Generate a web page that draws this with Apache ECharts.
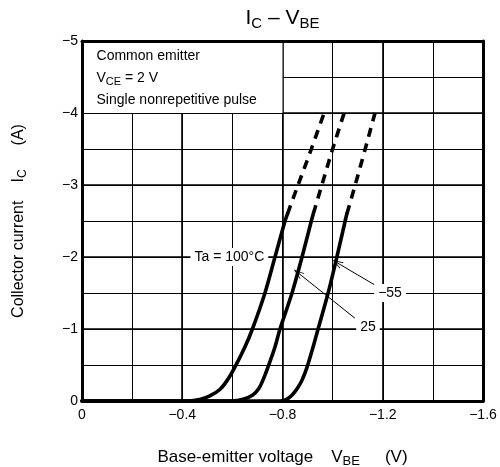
<!DOCTYPE html>
<html>
<head>
<meta charset="utf-8">
<script src="https://cdn.jsdelivr.net/npm/echarts@6/dist/echarts.min.js"></script>
<style>html,body{margin:0;padding:0;background:#fff}#c{width:500px;height:467px}</style>
</head>
<body>
<div id="c"></div>
<script>
// ---- data (VBE in V, IC in A) ----
const vbe100Solid = [0, -0.42, -0.47, -0.51, -0.55, -0.58, -0.61, -0.65, -0.68, -0.73, -0.77, -0.81, -0.82];
const ic100Solid  = [0, 0, -0.02, -0.07, -0.16, -0.29, -0.47, -0.75, -1.0, -1.5, -2.0, -2.5, -2.6];
const vbe100Dash  = [-0.82, -0.862, -0.915, -0.966];
const ic100Dash   = [-2.6, -3.0, -3.5, -4.0];

const vbe25Solid = [0, -0.60, -0.64, -0.68, -0.705, -0.722, -0.742, -0.77, -0.79, -0.838, -0.878, -0.915, -0.923];
const ic25Solid  = [0, 0, -0.02, -0.08, -0.17, -0.29, -0.47, -0.75, -1.0, -1.5, -2.0, -2.5, -2.6];
const vbe25Dash  = [-0.923, -0.957, -1.0, -1.046];
const ic25Dash   = [-2.6, -3.0, -3.5, -4.0];

const vbeM55Solid = [0, -0.79, -0.82, -0.845, -0.862, -0.878, -0.898, -0.922, -0.942, -0.982, -1.017, -1.05, -1.057];
const icM55Solid  = [0, 0, -0.03, -0.11, -0.19, -0.29, -0.47, -0.75, -1.0, -1.5, -2.0, -2.5, -2.6];
const vbeM55Dash  = [-1.057, -1.09, -1.13, -1.169];
const icM55Dash   = [-2.6, -3.0, -3.5, -4.0];

const xTicks = [0, -0.4, -0.8, -1.2, -1.6];
const yTicks = [0, -1, -2, -3, -4, -5];

const boxLines = ['Common emitter', '{m|V}{sub|CE}{m| = 2 V}', 'Single nonrepetitive pulse'];
const tempLabels = ['Ta = 100°C', '25', '−55'];

// ---- helpers ----
const zip = (xs, ys) => xs.map((x, i) => [x, ys[i]]);
const near = (a, b) => Math.abs(a - b) < 1e-6;
const fmt = v => {
  if (near(v, 0)) return '0';
  const a = Math.abs(v);
  return '−' + (near(a, Math.round(a)) ? String(Math.round(a)) : a.toFixed(1));
};

const FONT = 'Liberation Sans, Arial, sans-serif';
const richBase = {
  m: {fontFamily: FONT, fontSize: 16, color: '#000'},
  sub: {fontFamily: FONT, fontSize: 12, color: '#000', padding: [9, 0, 0, 0]},
  t: {fontFamily: FONT, fontSize: 21, color: '#000'},
  ts: {fontFamily: FONT, fontSize: 15, color: '#000', padding: [11, 0, 0, 0]},
  g: {fontFamily: FONT, fontSize: 16, width: 18},
  g2: {fontFamily: FONT, fontSize: 16, width: 24}
};
const richX = {
  m: {fontFamily: FONT, fontSize: 17, color: '#000'},
  sub: {fontFamily: FONT, fontSize: 13, color: '#000', padding: [9, 0, 0, 0]},
  g: {fontFamily: FONT, fontSize: 17, width: 18},
  g2: {fontFamily: FONT, fontSize: 17, width: 25}
};

function xAx(extra) {
  return Object.assign({type: 'value', min: -1.6, max: 0, inverse: true, interval: 0.2,
    axisLine: {show: false, onZero: false}, axisTick: {show: false}, axisLabel: {show: false},
    splitLine: {show: false}}, extra);
}
function yAx(extra) {
  return Object.assign({type: 'value', min: -5, max: 0, inverse: true, interval: 0.5,
    axisLine: {show: false, onZero: false}, axisTick: {show: false}, axisLabel: {show: false},
    splitLine: {show: false}}, extra);
}

const chart = echarts.init(document.getElementById('c'), null, {renderer: 'canvas'});

const solidStyle = {color: '#000', width: 3.6, cap: 'round', join: 'round'};
const dashStyle = {color: '#000', width: 3.6, type: [9, 7], cap: 'butt'};
function curve(data, style) {
  return {type: 'line', xAxisIndex: 0, yAxisIndex: 0, data: data, showSymbol: false, symbol: 'none',
    smooth: 0.3, lineStyle: style, z: 3, silent: true, animation: false};
}

const arrowPath = 'path://M0,0 L-5,12 L-4,12.6 L0,3 L4,12.6 L5,12 Z';

const option = {
  animation: false,
  grid: {left: 82, right: 17, top: 41, bottom: 66, containLabel: false, outerBoundsMode: 'none'},
  xAxis: [
    xAx({z: 0, splitLine: {show: true, lineStyle: {color: '#000', width: 1}}}),
    xAx({z: 0, interval: 0.4, splitLine: {show: true, lineStyle: {color: '#000', width: 1.6}}}),
    xAx({z: 4, position: 'bottom',
      axisLine: {show: true, onZero: false, lineStyle: {color: '#000', width: 3}},
      axisLabel: {show: true, margin: 7, color: '#000', fontFamily: FONT, fontSize: 14,
        formatter: v => (xTicks.some(t => near(t, v)) ? fmt(v) : '')},
      name: '{m|Base-emitter voltage}{g|}{m|V}{sub|BE}{g2|}{m|(V)}',
      nameLocation: 'middle', nameGap: 45, nameTextStyle: {rich: richX}}),
    xAx({z: 4, position: 'top',
      axisLine: {show: true, onZero: false, lineStyle: {color: '#000', width: 3}},
      name: '{t|I}{ts|C}{t| – V}{ts|BE}', nameLocation: 'middle', nameGap: 10,
      nameTextStyle: {rich: richBase}})
  ],
  yAxis: [
    yAx({z: 0, splitLine: {show: true, lineStyle: {color: '#000', width: 1}}}),
    yAx({z: 0, interval: 1, splitLine: {show: true, lineStyle: {color: '#000', width: 1.6}}}),
    yAx({z: 4, position: 'left',
      axisLine: {show: true, onZero: false, lineStyle: {color: '#000', width: 3}},
      axisLabel: {show: true, margin: 4, color: '#000', fontFamily: FONT, fontSize: 14,
        formatter: v => (yTicks.some(t => near(t, v)) ? fmt(v) : '')},
      name: '{m|Collector current}{g|}{m|I}{sub|C}{g2|}{m|(A)}',
      nameLocation: 'middle', nameGap: 53, nameRotate: 90, nameTextStyle: {rich: richBase}}),
    yAx({z: 4, position: 'right',
      axisLine: {show: true, onZero: false, lineStyle: {color: '#000', width: 3}}})
  ],
  series: [
    // white condition box
    {type: 'line', xAxisIndex: 0, yAxisIndex: 0, data: [], z: 1, silent: true,
      markArea: {silent: true, itemStyle: {color: '#fff'},
        data: [[{coord: [0, -5]}, {coord: [-0.8, -4]}]]}},
    curve(zip(vbe100Solid, ic100Solid), solidStyle),
    curve(zip(vbe100Dash, ic100Dash), dashStyle),
    curve(zip(vbe25Solid, ic25Solid), solidStyle),
    curve(zip(vbe25Dash, ic25Dash), dashStyle),
    curve(zip(vbeM55Solid, icM55Solid), solidStyle),
    curve(zip(vbeM55Dash, icM55Dash), dashStyle),
    // arrows
    {type: 'line', xAxisIndex: 0, yAxisIndex: 0, data: [], z: 4, silent: true,
      markLine: {silent: true, animation: false, symbol: ['none', arrowPath], symbolSize: [7, 11],
        lineStyle: {color: '#000', width: 1, type: 'solid'}, label: {show: false},
        data: [
          [{coord: [-1.089, -1.15]}, {coord: [-0.862, -1.78]}],
          [{coord: [-1.169, -1.61]}, {coord: [-1.018, -1.92]}]
        ]}},
    // box text
    {type: 'scatter', xAxisIndex: 0, yAxisIndex: 0, symbolSize: 0, z: 5, silent: true,
      itemStyle: {opacity: 1},
      label: {show: true, position: 'inside', align: 'left', verticalAlign: 'middle',
        color: '#000', fontFamily: FONT, fontSize: 14,
        formatter: p => boxLines[p.dataIndex],
        rich: {m: {fontFamily: FONT, fontSize: 14, color: '#000'},
               sub: {fontFamily: FONT, fontSize: 11, color: '#000', padding: [8, 0, 0, 0]}}},
      data: [[-0.058, -4.79], [-0.058, -4.48], [-0.058, -4.18]]},
    // temperature labels
    {type: 'scatter', xAxisIndex: 0, yAxisIndex: 0, symbolSize: 0, z: 5, silent: true,
      itemStyle: {opacity: 1},
      label: {show: true, position: 'inside', align: 'center', verticalAlign: 'middle',
        color: '#000', fontFamily: FONT, fontSize: 14, backgroundColor: '#fff', padding: [2, 4],
        formatter: p => tempLabels[p.dataIndex]},
      data: [[-0.588, -2.0], [-1.141, -1.03], [-1.229, -1.5]]}
  ]
};
chart.setOption(option);
</script>
</body>
</html>
